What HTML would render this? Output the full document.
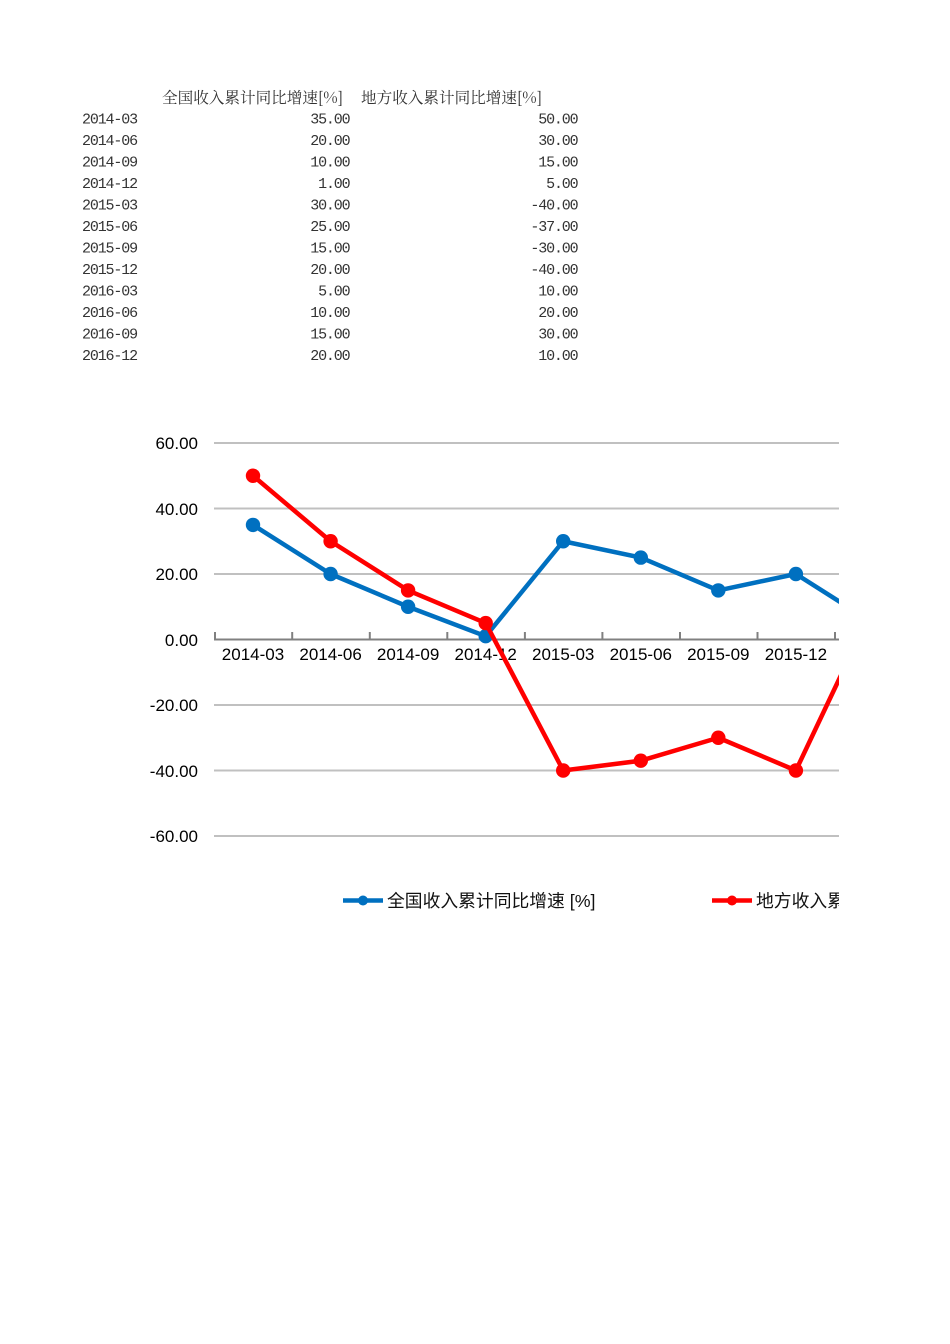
<!DOCTYPE html>
<html><head><meta charset="utf-8"><style>
html,body{margin:0;padding:0;background:#fff;width:950px;height:1344px;overflow:hidden;}
svg{display:block;}
.t{font-family:"Liberation Mono","Noto Serif CJK SC",monospace;font-size:15px;letter-spacing:-1.15px;fill:#333;}
.h{font-family:"Noto Serif CJK SC","Noto Sans CJK SC",serif;font-size:15.6px;fill:#333;}
.ax{font-family:"Liberation Sans",Arial,sans-serif;font-size:17px;fill:#000;}
.lg{font-family:"Liberation Sans","Noto Sans CJK SC",sans-serif;font-size:17.8px;fill:#111;}
</style></head><body>
<svg width="950" height="1344" viewBox="0 0 950 1344" xmlns="http://www.w3.org/2000/svg">
<!-- table -->
<text class="h" x="162" y="103">全国收入累计同比增速[%]</text>
<text class="h" x="361" y="103">地方收入累计同比增速[%]</text>
<g class="t">
<text x="82" y="123.5">2014-03</text><text x="349.5" y="123.5" text-anchor="end">35.00</text><text x="577.5" y="123.5" text-anchor="end">50.00</text>
<text x="82" y="145">2014-06</text><text x="349.5" y="145" text-anchor="end">20.00</text><text x="577.5" y="145" text-anchor="end">30.00</text>
<text x="82" y="166.5">2014-09</text><text x="349.5" y="166.5" text-anchor="end">10.00</text><text x="577.5" y="166.5" text-anchor="end">15.00</text>
<text x="82" y="188">2014-12</text><text x="349.5" y="188" text-anchor="end">1.00</text><text x="577.5" y="188" text-anchor="end">5.00</text>
<text x="82" y="209.5">2015-03</text><text x="349.5" y="209.5" text-anchor="end">30.00</text><text x="577.5" y="209.5" text-anchor="end">-40.00</text>
<text x="82" y="231">2015-06</text><text x="349.5" y="231" text-anchor="end">25.00</text><text x="577.5" y="231" text-anchor="end">-37.00</text>
<text x="82" y="252.5">2015-09</text><text x="349.5" y="252.5" text-anchor="end">15.00</text><text x="577.5" y="252.5" text-anchor="end">-30.00</text>
<text x="82" y="274">2015-12</text><text x="349.5" y="274" text-anchor="end">20.00</text><text x="577.5" y="274" text-anchor="end">-40.00</text>
<text x="82" y="295.5">2016-03</text><text x="349.5" y="295.5" text-anchor="end">5.00</text><text x="577.5" y="295.5" text-anchor="end">10.00</text>
<text x="82" y="317">2016-06</text><text x="349.5" y="317" text-anchor="end">10.00</text><text x="577.5" y="317" text-anchor="end">20.00</text>
<text x="82" y="338.5">2016-09</text><text x="349.5" y="338.5" text-anchor="end">15.00</text><text x="577.5" y="338.5" text-anchor="end">30.00</text>
<text x="82" y="360">2016-12</text><text x="349.5" y="360" text-anchor="end">20.00</text><text x="577.5" y="360" text-anchor="end">10.00</text>
</g>
<defs><clipPath id="c"><rect x="0" y="380" width="839" height="600"/></clipPath></defs>
<!-- y labels -->
<g class="ax" text-anchor="end">
<text x="198" y="449">60.00</text>
<text x="198" y="515">40.00</text>
<text x="198" y="580">20.00</text>
<text x="198" y="646">0.00</text>
<text x="198" y="711">-20.00</text>
<text x="198" y="777">-40.00</text>
<text x="198" y="842">-60.00</text>
</g>
<g clip-path="url(#c)">
<g stroke="#c0c0c0" stroke-width="2">
<line x1="214" y1="443" x2="850" y2="443"/>
<line x1="214" y1="508.5" x2="850" y2="508.5"/>
<line x1="214" y1="574" x2="850" y2="574"/>
<line x1="214" y1="705" x2="850" y2="705"/>
<line x1="214" y1="770.5" x2="850" y2="770.5"/>
<line x1="214" y1="836" x2="850" y2="836"/>
</g>
<g stroke="#808080" stroke-width="2">
<line x1="214" y1="639.5" x2="850" y2="639.5"/>
<line x1="215" y1="632" x2="215" y2="640"/>
<line x1="292.2" y1="632" x2="292.2" y2="640"/>
<line x1="369.8" y1="632" x2="369.8" y2="640"/>
<line x1="447.3" y1="632" x2="447.3" y2="640"/>
<line x1="524.9" y1="632" x2="524.9" y2="640"/>
<line x1="602.4" y1="632" x2="602.4" y2="640"/>
<line x1="680" y1="632" x2="680" y2="640"/>
<line x1="757.5" y1="632" x2="757.5" y2="640"/>
<line x1="835" y1="632" x2="835" y2="640"/>
</g>
<g class="ax" text-anchor="middle">
<text x="253" y="660">2014-03</text>
<text x="330.6" y="660">2014-06</text>
<text x="408.1" y="660">2014-09</text>
<text x="485.7" y="660">2014-12</text>
<text x="563.2" y="660">2015-03</text>
<text x="640.8" y="660">2015-06</text>
<text x="718.3" y="660">2015-09</text>
<text x="795.9" y="660">2015-12</text>
</g>
<polyline fill="none" stroke="#0070C0" stroke-width="4.5" stroke-linejoin="round" points="253,524.9 330.6,574 408.1,606.75 485.7,636.2 563.2,541.25 640.8,557.6 718.3,590.4 795.9,574 873.4,623.1"/>
<g fill="#0070C0">
<circle cx="253" cy="524.9" r="7.2"/><circle cx="330.6" cy="574" r="7.2"/><circle cx="408.1" cy="606.75" r="7.2"/><circle cx="485.7" cy="636.2" r="7.2"/><circle cx="563.2" cy="541.25" r="7.2"/><circle cx="640.8" cy="557.6" r="7.2"/><circle cx="718.3" cy="590.4" r="7.2"/><circle cx="795.9" cy="574" r="7.2"/>
</g>
<polyline fill="none" stroke="#FF0000" stroke-width="4.5" stroke-linejoin="round" points="253,475.75 330.6,541.25 408.1,590.4 485.7,623.1 563.2,770.5 640.8,760.7 718.3,737.75 795.9,770.5 873.4,606.75"/>
<g fill="#FF0000">
<circle cx="253" cy="475.75" r="7.2"/><circle cx="330.6" cy="541.25" r="7.2"/><circle cx="408.1" cy="590.4" r="7.2"/><circle cx="485.7" cy="623.1" r="7.2"/><circle cx="563.2" cy="770.5" r="7.2"/><circle cx="640.8" cy="760.7" r="7.2"/><circle cx="718.3" cy="737.75" r="7.2"/><circle cx="795.9" cy="770.5" r="7.2"/>
</g>
<!-- legend -->
<line x1="343" y1="900.5" x2="383" y2="900.5" stroke="#0070C0" stroke-width="4.5"/>
<circle cx="363" cy="900.5" r="5" fill="#0070C0"/>
<text class="lg" x="387" y="907">全国收入累计同比增速 [%]</text>
<line x1="712" y1="900.5" x2="752" y2="900.5" stroke="#FF0000" stroke-width="4.5"/>
<circle cx="732" cy="900.5" r="5" fill="#FF0000"/>
<text class="lg" x="756" y="907">地方收入累计同比增速 [%]</text>
</g>
</svg>
</body></html>
